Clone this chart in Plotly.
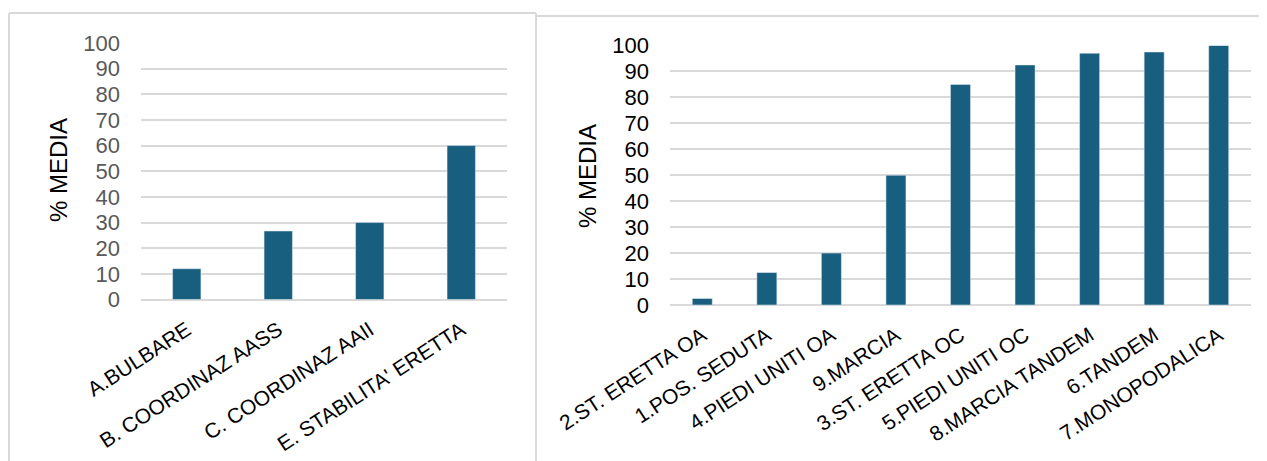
import plotly.graph_objects as go

# page body has an 8px margin, so the figure is drawn 8px in and sized to fit the window
OFF = 8
W, H = 1267 - OFF, 461 - OFF

left_categories = ["A.BULBARE", "B. COORDINAZ AASS", "C. COORDINAZ AAII", "E. STABILITA' ERETTA"]
left_values = [12, 26.7, 30, 60]

right_categories = ["2.ST. ERETTA OA", "1.POS. SEDUTA", "4.PIEDI UNITI OA", "9.MARCIA",
                    "3.ST. ERETTA OC", "5.PIEDI UNITI OC", "8.MARCIA TANDEM", "6.TANDEM",
                    "7.MONOPODALICA"]
right_values = [2.5, 12.5, 20, 50, 85, 92.5, 97, 97.5, 100]

y_ticks = [0, 10, 20, 30, 40, 50, 60, 70, 80, 90, 100]
y_title = "% MEDIA"

BAR = "#185f7f"
GRID = "#d9d9d9"
FONT = "Liberation Sans, Arial, sans-serif"

def px(x):
    return (x - OFF) / W

def py(y):
    return 1 - (y - OFF) / H

fig = go.Figure()
fig.add_trace(go.Bar(x=left_categories, y=left_values, marker_color=BAR, width=0.31,
                     xaxis="x", yaxis="y", showlegend=False))
fig.add_trace(go.Bar(x=right_categories, y=right_values, marker_color=BAR, width=0.31,
                     xaxis="x2", yaxis="y2", showlegend=False))

common_y = dict(range=[0, 100], tickvals=y_ticks, showgrid=True, gridcolor=GRID, gridwidth=2,
                zeroline=True, zerolinecolor=GRID, zerolinewidth=2, showline=False,
                ticks="", ticklabelstandoff=20, automargin=False, fixedrange=True)
common_x = dict(tickangle=-33, showline=False, showgrid=False, ticks="outside",
                ticklen=9, tickcolor="rgba(0,0,0,0)", automargin=False,
                tickfont=dict(size=21, color="#000000", family=FONT))

fig.update_layout(
    width=W, height=H,
    margin=dict(l=0, r=0, t=0, b=0),
    paper_bgcolor="white", plot_bgcolor="white",
    font=dict(family=FONT),
    xaxis=dict(domain=[px(141), px(507)], anchor="y", **common_x),
    yaxis=dict(domain=[py(299.5), py(43)], anchor="x",
               tickfont=dict(size=22, color="#595959", family=FONT), **common_y),
    xaxis2=dict(domain=[px(670), px(1251)], anchor="y2", **common_x),
    yaxis2=dict(domain=[py(305), py(45.5)], anchor="x2",
                tickfont=dict(size=22, color="#000000", family=FONT), **common_y),
    annotations=[
        dict(text=y_title, x=px(58), y=py(170), xref="paper", yref="paper", textangle=-90,
             showarrow=False, font=dict(size=24, color="#000000", family=FONT),
             xanchor="center", yanchor="middle"),
        dict(text=y_title, x=px(587), y=py(176), xref="paper", yref="paper", textangle=-90,
             showarrow=False, font=dict(size=24, color="#000000", family=FONT),
             xanchor="center", yanchor="middle"),
    ],
    shapes=[
        dict(type="line", xref="paper", yref="paper", x0=px(9), x1=px(9), y0=py(13), y1=py(470),
             line=dict(color=GRID, width=2)),
        dict(type="line", xref="paper", yref="paper", x0=px(9), x1=px(536), y0=py(13), y1=py(13),
             line=dict(color=GRID, width=2)),
        dict(type="line", xref="paper", yref="paper", x0=px(536), x1=px(536), y0=py(13), y1=py(470),
             line=dict(color=GRID, width=2)),
        dict(type="line", xref="paper", yref="paper", x0=px(536), x1=px(1270), y0=py(16), y1=py(16),
             line=dict(color=GRID, width=2)),
    ],
)

fig.write_html("out.html")
